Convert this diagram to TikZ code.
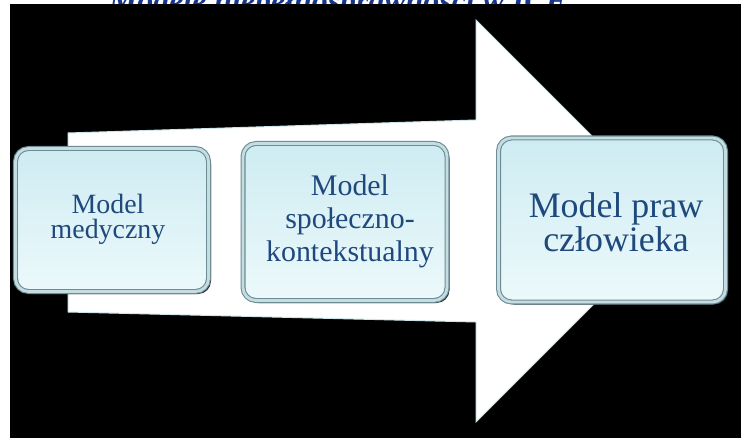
\documentclass[tikz,border=0pt]{standalone}
\usepackage{fontspec}
\setmainfont{Liberation Serif}
\usetikzlibrary{shadings}
\definecolor{txtblue}{RGB}{31,73,125}
\definecolor{titleblue}{RGB}{22,54,140}
\definecolor{boxtop}{RGB}{206,236,242}
\definecolor{boxbot}{RGB}{236,249,251}
\definecolor{rimout}{RGB}{110,140,148}
\definecolor{rimin}{RGB}{196,221,226}
\definecolor{arrowedge}{RGB}{205,228,233}
\tikzset{
  modelbox/.style={rounded corners=13bp, top color=boxtop, bottom color=boxbot,
    draw=rimout, double=rimin, double distance=2.8bp, line width=1.1bp,
    preaction={fill=black!70!rimout, transform canvas={shift={(2.5bp,-2.5bp)}}}},
  modeltext/.style={text=txtblue, align=center, inner sep=0pt},
  bigarrow/.style={fill=white, draw=arrowedge, line width=1bp}
}
\begin{document}
\begin{tikzpicture}[x=1bp,y=-1bp]
\useasboundingbox (0,0) rectangle (741,438);
\fill[white] (0,0) rectangle (741,438);
\node[anchor=base, text=titleblue, font=\fontsize{32}{36}\selectfont\bfseries\itshape] (title) at (338,12) {Modele niepełnosprawności w ICF};
\fill[black] (10,4) rectangle (741,438);
% big arrow
\draw[bigarrow] (68,133) -- (476,120) -- (476,20) -- (677,221) -- (476,422) -- (476,322) -- (68,312) -- cycle;
% boxes
\node[modelbox, minimum width=193bp, minimum height=143bp] (m1) at (112,220) {};
\node[modelbox, minimum width=204bp, minimum height=157bp] (m2) at (345,222) {};
\node[modelbox, minimum width=227bp, minimum height=164bp] (m3) at (612,220) {};
\node[modeltext, font=\fontsize{28}{25}\selectfont] (t1) at (108,219) {Model\\medyczny};
\node[modeltext, font=\fontsize{30}{33}\selectfont] (t2) at (350,221) {Model\\społeczno-\\kontekstualny};
\node[modeltext, font=\fontsize{36}{34}\selectfont] (t3) at (616,222) {Model praw\\człowieka};
\end{tikzpicture}
\end{document}
